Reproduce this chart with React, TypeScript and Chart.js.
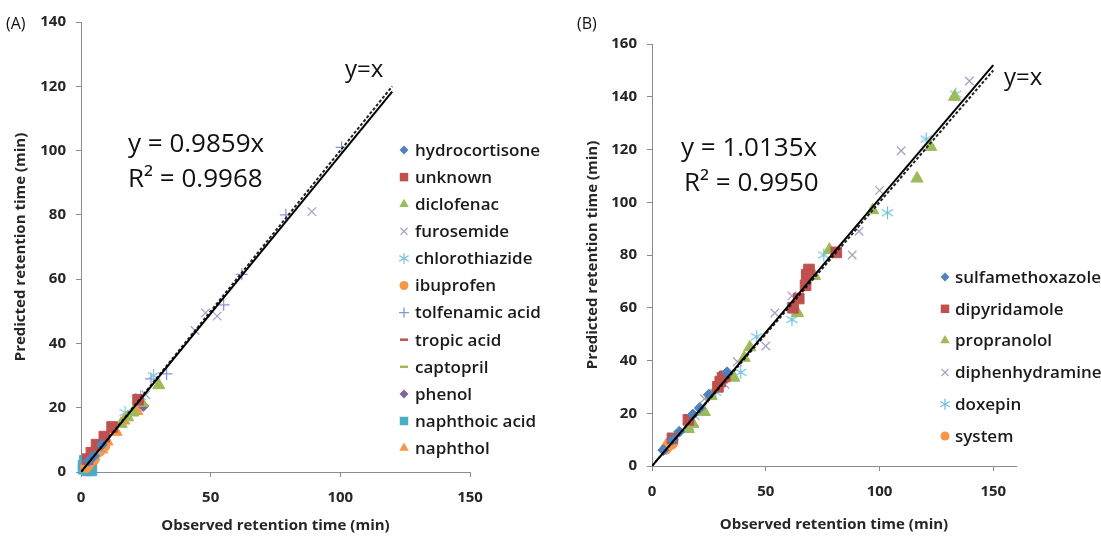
import React, { useEffect, useRef } from 'react';
import { Chart, registerables } from 'chart.js';

Chart.register(...registerables);

const FONT = "'Open Sans', sans-serif";
Chart.defaults.font.family = FONT;

type Pt = [number, number];

// ---------------- Panel (A) ----------------
const A_X_MAX = 150;
const A_Y_MAX = 140;
const A_X_TICKS = [0, 50, 100, 150];
const A_Y_STEP = 20;
const A_SLOPE = 0.9859;
const A_R2 = '0.9968';
const A_LINE_END = 120;

const A_NAMES = [
  'hydrocortisone', 'unknown', 'diclofenac', 'furosemide', 'chlorothiazide', 'ibuprofen',
  'tolfenamic acid', 'tropic acid', 'captopril', 'phenol', 'naphthoic acid', 'naphthol',
];
const A_hydrocortisone: Pt[] = [[5, 5], [8, 8.5], [3, 3.5]];
const A_unknown: Pt[] = [[22, 22.5], [12, 14], [9, 11], [6, 8.5], [4, 6], [2.5, 4]];
const A_diclofenac: Pt[] = [[30, 27], [23.5, 21.5], [18, 17], [15.5, 15], [20, 18.5]];
const A_furosemide: Pt[] = [[89, 81], [48, 49.5], [52.5, 48.5], [44, 44], [25, 24]];
const A_chlorothiazide: Pt[] = [[17, 18.5], [28, 30], [23, 23.5], [6, 6.5]];
const A_ibuprofen: Pt[] = [[2, 1.5], [3, 2.5], [5, 4], [7, 6.5], [9, 8]];
const A_tolfenamic: Pt[] = [[100.5, 101], [79, 80], [62, 61.5], [55, 52], [33, 30.5], [27, 29]];
const A_tropic: Pt[] = [[1.5, 1.5], [3, 3]];
const A_captopril: Pt[] = [[2, 1.5], [4, 3.5]];
const A_phenol: Pt[] = [[24, 20.5], [3, 2.5]];
const A_naphthoic: Pt[] = [[1, 1], [2, 3], [1.5, 3.5], [3, 1], [2.5, 0.5], [4, 0.5], [1, 2], [3.5, 2]];
const A_naphthol: Pt[] = [[21.5, 19], [13.5, 12.5], [10, 9.5], [6.5, 6.5], [8, 7], [4, 3.5], [16.5, 16]];
const A_VALUES = [
  A_hydrocortisone, A_unknown, A_diclofenac, A_furosemide, A_chlorothiazide, A_ibuprofen,
  A_tolfenamic, A_tropic, A_captopril, A_phenol, A_naphthoic, A_naphthol,
];
const A_STYLES = ['rectRot', 'rect', 'triangle', 'crossRot', 'asterisk', 'circle', 'cross', 'dash', 'dash', 'rectRot', 'rect', 'triangle'];
const A_COLORS = ['#4F81BD', '#C0504D', '#9BBB59', '#A7A2C3', '#86C5DA', '#F79646', '#8597D9', '#C0504D', '#9BBB59', '#8064A2', '#4BACC6', '#F79646'];

// ---------------- Panel (B) ----------------
const B_X_MAX = 160;
const B_Y_MAX = 160;
const B_X_TICKS = [0, 50, 100, 150];
const B_Y_STEP = 20;
const B_SLOPE = 1.0135;
const B_R2 = '0.9950';
const B_LINE_END = 150;

const B_NAMES = ['sulfamethoxazole', 'dipyridamole', 'propranolol', 'diphenhydramine', 'doxepin', 'system'];
const B_sulfamethoxazole: Pt[] = [[33, 35.5], [18, 19.5], [12, 13], [5, 6], [25, 27], [9, 10], [21, 22]];
const B_dipyridamole: Pt[] = [[81, 81], [69, 74.5], [68, 72.5], [67.5, 68.5], [64.5, 63.5], [62, 60], [31, 33.5], [29, 30], [30, 32], [16, 17.5], [9, 10.5], [32, 34]];
const B_propranolol: Pt[] = [[133, 140], [122.5, 121], [116.5, 109], [97, 97], [78, 82], [71.5, 72], [64, 58], [43, 45], [40.5, 41], [36, 33.5], [26, 26.5], [23, 20.5], [16, 14], [18, 16]];
const B_diphenhydramine: Pt[] = [[139.5, 146], [109.5, 119.5], [100, 104.5], [91, 89], [88, 80], [61.5, 64.5], [54, 58], [50, 45.5], [37.5, 39.5], [32, 31], [23, 25.5], [19, 19]];
const B_doxepin: Pt[] = [[133.5, 141], [120.5, 124], [103.5, 96], [75.5, 80], [61.5, 55.5], [46, 49], [39, 35.5], [28, 28], [16, 15]];
const B_system: Pt[] = [[7.3, 8], [6, 6.5], [8.8, 8.5], [9, 10], [7, 7.5], [8, 9]];
const B_VALUES = [B_sulfamethoxazole, B_dipyridamole, B_propranolol, B_diphenhydramine, B_doxepin, B_system];
const B_STYLES = ['rectRot', 'rect', 'triangle', 'crossRot', 'asterisk', 'circle'];
const B_COLORS = ['#4F81BD', '#C0504D', '#9BBB59', '#A7A2C3', '#6FC3DA', '#F79646'];

const X_TITLE = 'Observed retention time (min)';
const Y_TITLE = 'Predicted retention time (min)';

// ---------------- marker helpers ----------------
const RADIUS: Record<string, number> = {
  rectRot: 5.5, rect: 7.5, triangle: 7, crossRot: 6, asterisk: 6.5, circle: 5.5, cross: 6, dash: 4,
};
const LEGEND_RADIUS: Record<string, number> = {
  rectRot: 4.5, rect: 6, triangle: 5.5, crossRot: 5, asterisk: 5.5, circle: 4.5, cross: 5, dash: 4,
};

function drawMarker(ctx: CanvasRenderingContext2D, style: string, x: number, y: number, r: number, color: string) {
  ctx.save();
  ctx.fillStyle = color;
  ctx.strokeStyle = color;
  ctx.lineWidth = 1.3;
  ctx.beginPath();
  switch (style) {
    case 'rect': {
      const s = r * Math.SQRT1_2;
      ctx.rect(x - s, y - s, 2 * s, 2 * s);
      ctx.fill();
      break;
    }
    case 'rectRot':
      ctx.moveTo(x, y - r); ctx.lineTo(x + r, y); ctx.lineTo(x, y + r); ctx.lineTo(x - r, y);
      ctx.closePath(); ctx.fill();
      break;
    case 'triangle':
      for (let i = 0; i < 3; i++) {
        const a = -Math.PI / 2 + (i * 2 * Math.PI) / 3;
        const px = x + Math.cos(a) * r;
        const py = y + Math.sin(a) * r;
        if (i === 0) ctx.moveTo(px, py); else ctx.lineTo(px, py);
      }
      ctx.closePath(); ctx.fill();
      break;
    case 'circle':
      ctx.arc(x, y, r, 0, Math.PI * 2); ctx.fill();
      break;
    case 'crossRot': {
      const s = r * Math.SQRT1_2;
      ctx.moveTo(x - s, y - s); ctx.lineTo(x + s, y + s);
      ctx.moveTo(x + s, y - s); ctx.lineTo(x - s, y + s);
      ctx.stroke();
      break;
    }
    case 'cross':
      ctx.moveTo(x - r, y); ctx.lineTo(x + r, y);
      ctx.moveTo(x, y - r); ctx.lineTo(x, y + r);
      ctx.stroke();
      break;
    case 'asterisk':
      for (let i = 0; i < 3; i++) {
        const a = Math.PI / 2 + (i * Math.PI) / 3;
        ctx.moveTo(x - Math.cos(a) * r, y - Math.sin(a) * r);
        ctx.lineTo(x + Math.cos(a) * r, y + Math.sin(a) * r);
      }
      ctx.stroke();
      break;
    case 'dash':
      ctx.lineWidth = 2.5;
      ctx.moveTo(x - r, y); ctx.lineTo(x + r, y);
      ctx.stroke();
      break;
  }
  ctx.restore();
}

function markerCanvas(style: string, color: string, r: number): HTMLCanvasElement {
  const size = Math.ceil(r * 2 + 4);
  const c = document.createElement('canvas');
  c.width = size; c.height = size;
  const ctx = c.getContext('2d')!;
  drawMarker(ctx, style, size / 2, size / 2, r, color);
  return c;
}

function pointStyleFor(style: string, color: string, r: number): any {
  if (style === 'asterisk' || style === 'dash') return markerCanvas(style, color, r);
  return style;
}

// ---------------- chart config builder ----------------
interface PanelSpec {
  names: string[];
  values: Pt[][];
  styles: string[];
  colors: string[];
  xMax: number;
  yMax: number;
  xTicks: number[];
  yStep: number;
  slope: number;
  lineEnd: number;
  padding: { left: number; right: number; top: number; bottom: number };
  yAxisWidth: number;
  xAxisHeight: number;
  xTitlePad: number;
  legend: { markerX: number; textX: number; y0: number; dy: number };
  texts: { text: string; x: number; y: number; size: number }[];
}

function overlayPlugin(spec: PanelSpec) {
  return {
    id: 'overlay',
    afterDraw(chart: Chart) {
      const ctx = chart.ctx;
      ctx.save();
      ctx.textBaseline = 'middle';
      ctx.textAlign = 'left';
      spec.names.forEach((n, i) => {
        const y = spec.legend.y0 + i * spec.legend.dy;
        drawMarker(ctx, spec.styles[i], spec.legend.markerX, y, LEGEND_RADIUS[spec.styles[i]], spec.colors[i]);
        ctx.font = `600 17px ${FONT}`;
        ctx.fillStyle = '#1a1a1a';
        ctx.fillText(n, spec.legend.textX, y + 1);
      });
      ctx.textBaseline = 'alphabetic';
      spec.texts.forEach((t) => {
        ctx.font = `${t.size}px ${FONT}`;
        ctx.fillStyle = '#111';
        ctx.fillText(t.text, t.x, t.y);
      });
      ctx.restore();
    },
  };
}

function buildConfig(spec: PanelSpec): any {
  const scatterSets = spec.names.map((name, i) => {
    const st = spec.styles[i];
    const r = RADIUS[st];
    return {
      label: name,
      data: spec.values[i].map(([x, y]) => ({ x, y })),
      pointStyle: pointStyleFor(st, spec.colors[i], r),
      pointRadius: r,
      pointBackgroundColor: spec.colors[i],
      pointBorderColor: spec.colors[i],
      pointBorderWidth: st === 'crossRot' || st === 'cross' ? 1.3 : 1,
      showLine: false,
      clip: false,
      order: 2,
    };
  });
  const fitLine = {
    label: 'fit',
    data: [{ x: 0, y: 0 }, { x: spec.lineEnd, y: spec.slope * spec.lineEnd }],
    showLine: true,
    borderColor: '#000',
    borderWidth: 2,
    pointRadius: 0,
    fill: false,
    order: 0,
  };
  const identity = {
    label: 'y=x',
    data: [{ x: 0, y: 0 }, { x: spec.lineEnd, y: spec.lineEnd }],
    showLine: true,
    borderColor: '#222',
    borderWidth: 2,
    borderDash: [3, 2],
    pointRadius: 0,
    fill: false,
    order: 1,
  };
  const tickFont = { size: 15, weight: 'bold' as const };
  const axisColor = '#8c8c8c';
  return {
    type: 'scatter',
    data: { datasets: [fitLine, identity, ...scatterSets] },
    options: {
      animation: false,
      responsive: false,
      events: [],
      layout: { padding: spec.padding },
      plugins: { legend: { display: false }, tooltip: { enabled: false } },
      scales: {
        x: {
          type: 'linear',
          min: 0,
          max: spec.xMax,
          ticks: { font: tickFont, color: '#262626', padding: 12, maxRotation: 0, autoSkip: false },
          afterBuildTicks: (axis: any) => {
            axis.ticks = spec.xTicks.map((v) => ({ value: v }));
          },
          grid: { display: true, drawOnChartArea: false, drawTicks: true, tickLength: 5, color: axisColor },
          border: { display: true, color: axisColor, width: 1 },
          title: { display: true, text: X_TITLE, font: { size: 15, weight: 'bold' }, color: '#262626', padding: { top: 0, bottom: spec.xTitlePad } },
          afterFit: (axis: any) => { axis.height = spec.xAxisHeight; },
        },
        y: {
          type: 'linear',
          min: 0,
          max: spec.yMax,
          ticks: { stepSize: spec.yStep, font: tickFont, color: '#262626', padding: 10 },
          grid: { display: true, drawOnChartArea: false, drawTicks: true, tickLength: 5, color: axisColor },
          border: { display: true, color: axisColor, width: 1 },
          title: { display: true, text: Y_TITLE, font: { size: 15, weight: 'bold' }, color: '#262626', padding: { top: 2, bottom: 0 } },
          afterFit: (axis: any) => { axis.width = spec.yAxisWidth; },
        },
      },
    },
    plugins: [overlayPlugin(spec)],
  };
}

const SPEC_A: PanelSpec = {
  names: A_NAMES,
  values: A_VALUES,
  styles: A_STYLES,
  colors: A_COLORS,
  xMax: A_X_MAX,
  yMax: A_Y_MAX,
  xTicks: A_X_TICKS,
  yStep: A_Y_STEP,
  slope: A_SLOPE,
  lineEnd: A_LINE_END,
  padding: { left: 10, right: 80, top: 22, bottom: 0 },
  yAxisWidth: 71,
  xAxisHeight: 64,
  xTitlePad: 1,
  legend: { markerX: 404, textX: 415, y0: 150, dy: 27.1 },
  texts: [
    { text: '(A)', x: 6, y: 29, size: 16 },
    { text: 'y=x', x: 345, y: 77, size: 24 },
    { text: `y = ${A_SLOPE}x`, x: 128, y: 152, size: 26 },
    { text: `R² = ${A_R2}`, x: 128, y: 187, size: 26 },
  ],
};

const SPEC_B: PanelSpec = {
  names: B_NAMES,
  values: B_VALUES,
  styles: B_STYLES,
  colors: B_COLORS,
  xMax: B_X_MAX,
  yMax: B_Y_MAX,
  xTicks: B_X_TICKS,
  yStep: B_Y_STEP,
  slope: B_SLOPE,
  lineEnd: B_LINE_END,
  padding: { left: 32, right: 85, top: 44, bottom: 0 },
  yAxisWidth: 70,
  xAxisHeight: 70,
  xTitlePad: 2,
  legend: { markerX: 395, textX: 405, y0: 277, dy: 31.8 },
  texts: [
    { text: '(B)', x: 27, y: 29, size: 16 },
    { text: 'y=x', x: 454, y: 85, size: 24 },
    { text: `y = ${B_SLOPE}x`, x: 131, y: 156, size: 26 },
    { text: `R² = ${B_R2}`, x: 134, y: 191, size: 26 },
  ],
};

function Panel({ spec, left, width }: { spec: PanelSpec; left: number; width: number }) {
  const ref = useRef<HTMLCanvasElement>(null);
  useEffect(() => {
    if (!ref.current) return;
    const chart = new Chart(ref.current, buildConfig(spec));
    return () => chart.destroy();
  }, [spec]);
  return (
    <div style={{ position: 'absolute', left, top: 0, width, height: 536 }}>
      <canvas ref={ref} width={width} height={536} style={{ width, height: 536, display: 'block' }} />
    </div>
  );
}

export default function App() {
  return (
    <div style={{ position: 'absolute', left: 0, top: 0, width: 1101, height: 536, background: '#fff' }}>
      <Panel spec={SPEC_A} left={0} width={550} />
      <Panel spec={SPEC_B} left={550} width={551} />
    </div>
  );
}
